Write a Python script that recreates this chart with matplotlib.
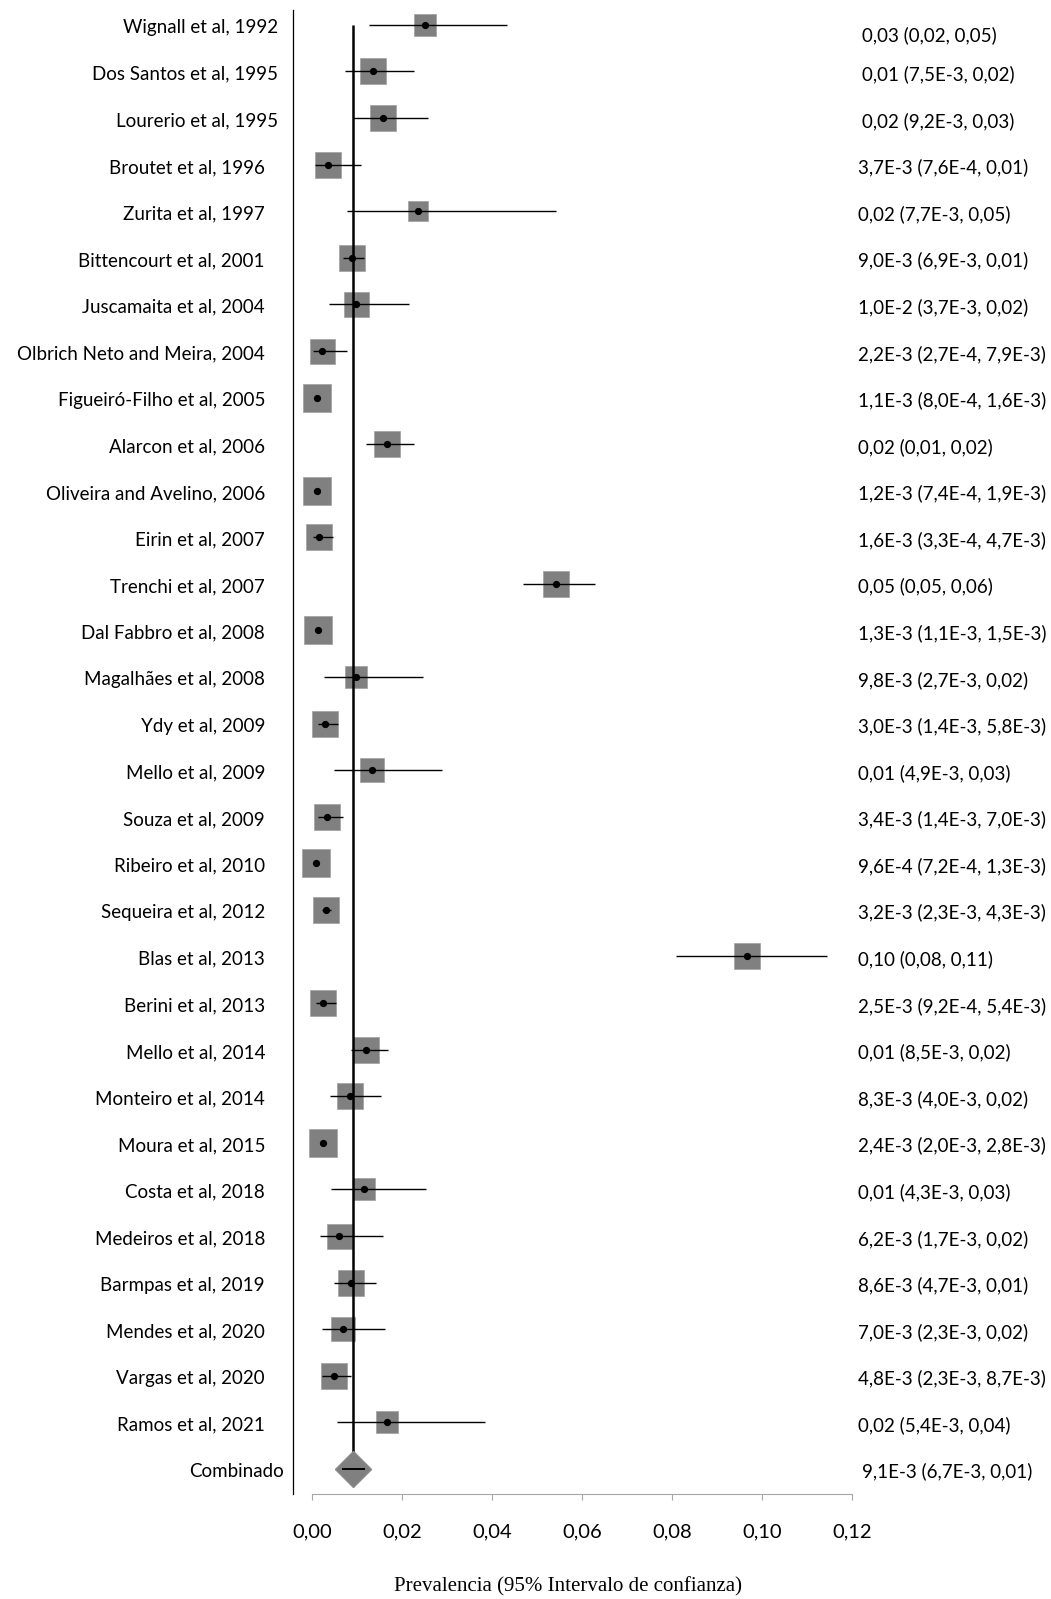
import numpy as np
import matplotlib.pyplot as plt
from matplotlib import transforms

# studies, estimates and 95% CI
studies = ['Wignall et al, 1992', 'Dos Santos et al, 1995', 'Lourerio et al, 1995',
           'Broutet et al, 1996', 'Zurita et al, 1997', 'Bittencourt et al, 2001',
           'Juscamaita et al, 2004', 'Olbrich Neto and Meira, 2004', 'Figueiró-Filho et al, 2005',
           'Alarcon et al, 2006', 'Oliveira and Avelino, 2006', 'Eirin et al, 2007',
           'Trenchi et al, 2007', 'Dal Fabbro et al, 2008', 'Magalhães et al, 2008',
           'Ydy et al, 2009', 'Mello et al, 2009', 'Souza et al, 2009',
           'Ribeiro et al, 2010', 'Sequeira et al, 2012', 'Blas et al, 2013',
           'Berini et al, 2013', 'Mello et al, 2014', 'Monteiro et al, 2014',
           'Moura et al, 2015', 'Costa et al, 2018', 'Medeiros et al, 2018',
           'Barmpas et al, 2019', 'Mendes et al, 2020', 'Vargas et al, 2020',
           'Ramos et al, 2021']

est = [0.0252, 0.0136, 0.0159, 0.0036, 0.0235, 0.0090, 0.0097, 0.0022, 0.0011,
       0.0167, 0.0012, 0.0016, 0.0543, 0.0013, 0.0098, 0.0030, 0.0133, 0.0034,
       0.00096, 0.0032, 0.0966, 0.0025, 0.0120, 0.0084, 0.0024, 0.0115, 0.0061,
       0.0086, 0.0070, 0.0048, 0.0166]
low = [0.0127, 0.0073, 0.0092, 0.00067, 0.0077, 0.0069, 0.0037, 0.00027, 0.0008,
       0.0120, 0.00074, 0.00033, 0.0468, 0.0011, 0.0027, 0.0014, 0.0049, 0.0014,
       0.00072, 0.0023, 0.0808, 0.00092, 0.0086, 0.0041, 0.0020, 0.0043, 0.0018,
       0.0050, 0.0023, 0.0023, 0.0055]
high = [0.0433, 0.0227, 0.0258, 0.0108, 0.0543, 0.0115, 0.0215, 0.0077, 0.0016,
        0.0226, 0.0019, 0.0047, 0.0629, 0.0015, 0.0247, 0.0058, 0.0288, 0.0070,
        0.0013, 0.0043, 0.1144, 0.0054, 0.0168, 0.0154, 0.0028, 0.0254, 0.0158,
        0.0143, 0.0163, 0.0087, 0.0385]
# box size in pixels (study weight)
box_px = [23, 26, 26, 26, 20, 27, 25, 25, 28, 27, 28, 27, 27, 28, 23, 27, 24, 27,
          28, 27, 26, 27, 27, 26, 28, 23, 25, 26, 24, 27, 22]

ci_text = ['0,03 (0,02, 0,05)', '0,01 (7,5E-3, 0,02)', '0,02 (9,2E-3, 0,03)',
           '3,7E-3 (7,6E-4, 0,01)', '0,02 (7,7E-3, 0,05)', '9,0E-3 (6,9E-3, 0,01)',
           '1,0E-2 (3,7E-3, 0,02)', '2,2E-3 (2,7E-4, 7,9E-3)', '1,1E-3 (8,0E-4, 1,6E-3)',
           '0,02 (0,01, 0,02)', '1,2E-3 (7,4E-4, 1,9E-3)', '1,6E-3 (3,3E-4, 4,7E-3)',
           '0,05 (0,05, 0,06)', '1,3E-3 (1,1E-3, 1,5E-3)', '9,8E-3 (2,7E-3, 0,02)',
           '3,0E-3 (1,4E-3, 5,8E-3)', '0,01 (4,9E-3, 0,03)', '3,4E-3 (1,4E-3, 7,0E-3)',
           '9,6E-4 (7,2E-4, 1,3E-3)', '3,2E-3 (2,3E-3, 4,3E-3)', '0,10 (0,08, 0,11)',
           '2,5E-3 (9,2E-4, 5,4E-3)', '0,01 (8,5E-3, 0,02)', '8,3E-3 (4,0E-3, 0,02)',
           '2,4E-3 (2,0E-3, 2,8E-3)', '0,01 (4,3E-3, 0,03)', '6,2E-3 (1,7E-3, 0,02)',
           '8,6E-3 (4,7E-3, 0,01)', '7,0E-3 (2,3E-3, 0,02)', '4,8E-3 (2,3E-3, 8,7E-3)',
           '0,02 (5,4E-3, 0,04)']

pooled_label = 'Combinado'
pooled_est = 0.0091
pooled_low = 0.0067
pooled_high = 0.0118
pooled_text = '9,1E-3 (6,7E-3, 0,01)'

ticks = [0.0, 0.02, 0.04, 0.06, 0.08, 0.10, 0.12]
tick_labels = ['0,00', '0,02', '0,04', '0,06', '0,08', '0,10', '0,12']

plt.rcParams['font.family'] = ['Lato', 'DejaVu Sans']

fig = plt.figure(figsize=(10.51, 15.99), dpi=100)
ax = fig.add_axes([293 / 1051, 105 / 1599, 560 / 1051, 1484 / 1599])

n = len(studies)
rows = np.arange(n)
pooled_row = n
px = 72 / 100  # pixel -> points

for i in range(n):
    ax.plot(est[i], rows[i], marker='s', ms=box_px[i] * px, color='#808080',
            mec='#a0a0a0', mew=0.5, zorder=2)
ax.hlines(rows, low, high, color='black', lw=1.0, zorder=3)
ax.vlines(pooled_est, 0, pooled_row, color='black', lw=1.8, zorder=4)
ax.plot(est, rows, 'o', color='black', ms=4.2, zorder=5)
ax.plot(pooled_est, pooled_row, marker='D', ms=18, color='#808080', mec='#8a8a8a', zorder=6)
ax.hlines(pooled_row, pooled_low, pooled_high, color='black', lw=1.4, zorder=7)

ax.set_xlim(-0.0042, 0.1202)
ax.set_ylim(n + 0.54, -0.32)

for s in ['top', 'right']:
    ax.spines[s].set_visible(False)
ax.spines['left'].set_linewidth(0.9)
ax.spines['bottom'].set_color('#a6a6a6')
ax.spines['bottom'].set_bounds(0, 0.12)
ax.set_yticks([])
ax.set_xticks(ticks)
ax.set_xticklabels(tick_labels)
ax.tick_params(axis='x', direction='out', length=4, color='#a6a6a6', pad=17, labelsize=14.5)

tr = transforms.blended_transform_factory(fig.transFigure, ax.transData)
names = studies + [pooled_label]
texts = ci_text + [pooled_text]
# right edge (px) of the study names; a few boxes sit further right
name_right = {0: 278, 1: 278, 2: 278, n: 284}
for i in range(n + 1):
    xr = name_right.get(i, 265)
    ax.text(xr / 1051, i + 0.06, names[i], transform=tr, ha='right', va='center',
            fontsize=13.5, clip_on=False)
    shift = 0.22 if i == 0 else 0.06
    xl = 862 if i in (0, 1, 2, n) else 858
    ax.text(xl / 1051, i + shift, texts[i], transform=tr, ha='left', va='center',
            fontsize=13.5, clip_on=False)

fig.text(568 / 1051, 1 - 1587 / 1599, 'Prevalencia (95% Intervalo de confianza)',
         ha='center', va='center', fontsize=15, family='Liberation Serif')

fig.savefig('out.png', dpi=100)
